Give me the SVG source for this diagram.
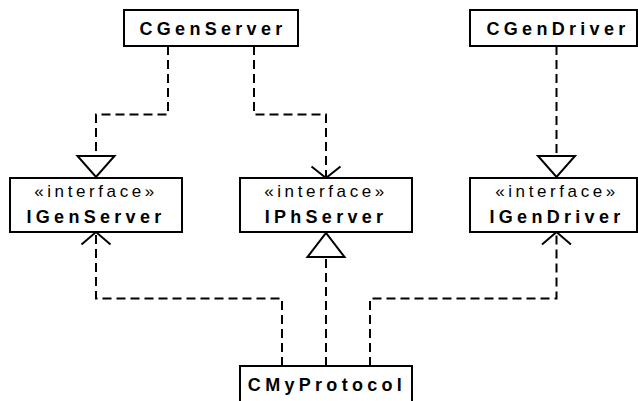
<svg xmlns="http://www.w3.org/2000/svg" width="638" height="401" viewBox="0 0 638 401">
  <style>
    .box { fill: #ffffff; stroke: #000000; stroke-width: 2; }
    .name { font-family: "Liberation Sans", Arial, Helvetica, sans-serif; font-size: 18px; font-weight: bold; letter-spacing: 4.3px; text-anchor: middle; fill: #000000; }
    .stereo { font-family: "Liberation Sans", Arial, Helvetica, sans-serif; font-size: 17px; letter-spacing: 3.6px; text-anchor: middle; fill: #000000; }
    .dep { fill: none; stroke: #000000; stroke-width: 2; stroke-dasharray: 9 5; }
    .tri { fill: #ffffff; stroke: #000000; stroke-width: 2; stroke-linejoin: miter; }
    .open { fill: none; stroke: #000000; stroke-width: 2; }
  </style>
  <rect width="638" height="401" fill="#ffffff"/>

  <!-- connectors -->
  <g id="connectors">
    <!-- CGenServer realizes IGenServer -->
    <path class="dep" d="M168,46 V114.5 H96 V156"/>
    <polygon class="tri" points="77.5,156 114.5,156 96,177"/>
    <!-- CGenServer uses IPhServer -->
    <path class="dep" d="M254,46 V114.5 H326 V177"/>
    <polyline class="open" points="311.5,166.5 326,178 340.5,166.5"/>
    <!-- CGenDriver realizes IGenDriver -->
    <path class="dep" d="M556.5,46 V156"/>
    <polygon class="tri" points="538,156 575,156 556.5,177"/>
    <!-- CMyProtocol uses IGenServer -->
    <path class="dep" d="M282,366 V298.5 H96 V233"/>
    <polyline class="open" points="81.5,244.5 96,232 110.5,244.5"/>
    <!-- CMyProtocol realizes IPhServer -->
    <path class="dep" d="M326,366 V257"/>
    <polygon class="tri" points="307.5,257 344.5,257 326,233"/>
    <!-- CMyProtocol uses IGenDriver -->
    <path class="dep" d="M370,366 V298.5 H556.5 V233"/>
    <polyline class="open" points="542,244.5 556.5,232 571,244.5"/>
  </g>

  <!-- classes -->
  <g id="CGenServer">
    <rect class="box" x="124" y="10" width="174" height="36"/>
    <text class="name" x="213" y="35">CGenServer</text>
  </g>
  <g id="CGenDriver">
    <rect class="box" x="470" y="10" width="167" height="36"/>
    <text class="name" x="558" y="35">CGenDriver</text>
  </g>
  <g id="IGenServer">
    <rect class="box" x="10" y="178" width="172" height="54"/>
    <text class="stereo" x="96" y="197">«interface»</text>
    <text class="name" x="96" y="223">IGenServer</text>
  </g>
  <g id="IPhServer">
    <rect class="box" x="240" y="178" width="172" height="54"/>
    <text class="stereo" x="326" y="197">«interface»</text>
    <text class="name" x="326" y="223">IPhServer</text>
  </g>
  <g id="IGenDriver">
    <rect class="box" x="470" y="178" width="167" height="54"/>
    <text class="stereo" x="557" y="197">«interface»</text>
    <text class="name" x="557" y="223">IGenDriver</text>
  </g>
  <g id="CMyProtocol">
    <rect class="box" x="240" y="366" width="172" height="42"/>
    <text class="name" x="327" y="390.5">CMyProtocol</text>
  </g>
</svg>
